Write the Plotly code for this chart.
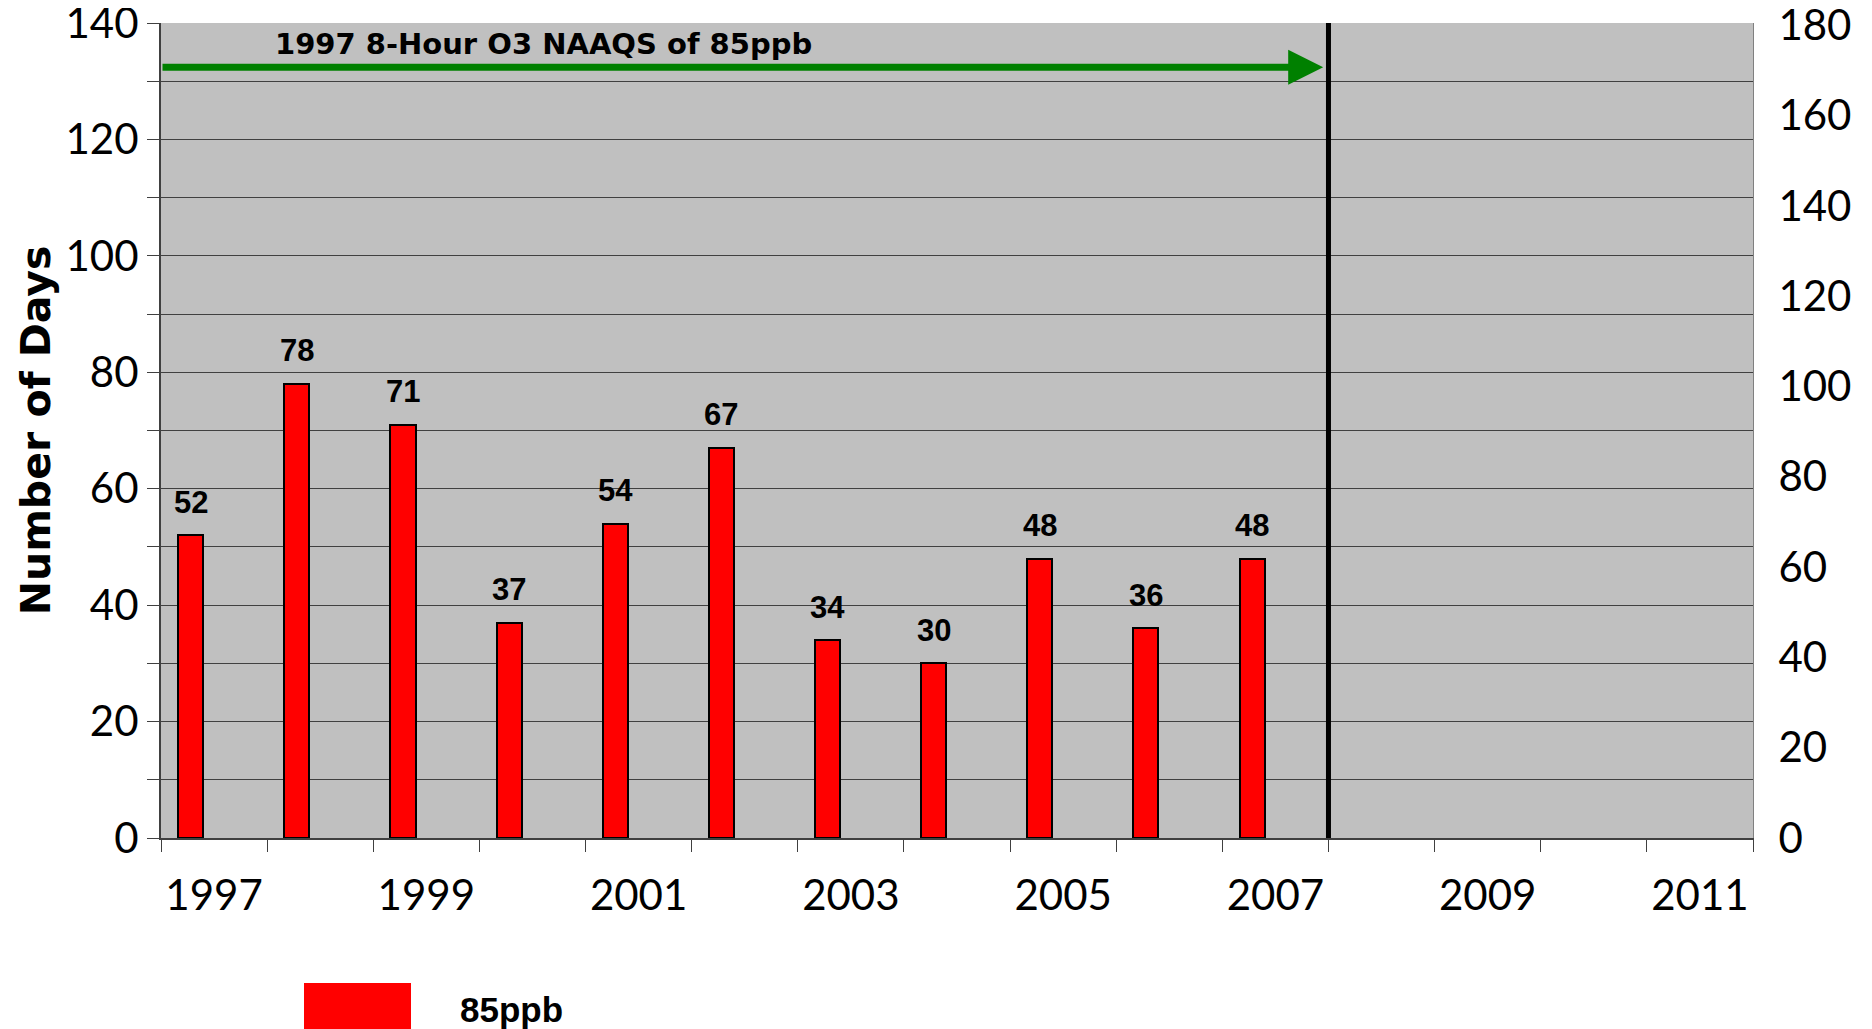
import plotly.graph_objects as go

# ---- data ----
years = [1997, 1998, 1999, 2000, 2001, 2002, 2003, 2004, 2005, 2006, 2007]
days_85ppb = [52, 78, 71, 37, 54, 67, 34, 30, 48, 36, 48]
axis_years = list(range(1997, 2012))
tick_years = [1997, 1999, 2001, 2003, 2005, 2007, 2009, 2011]
tick_labels = [str(y) for y in tick_years]
series_name = "85ppb"
arrow_label = "1997 8-Hour O3 NAAQS of 85ppb"
standard_end = 2007.5
arrow_level = 132.4

# ---- style ----
BAR_W = 0.236
BAR_CENTER_SHIFT = -0.22
TICK_FONT = dict(family="Lato", size=42, color="black")

OFF = 8  # page body margin
W, H = 1872 - OFF, 1029 - OFF
L, R, T, B = 161 - OFF, 119, 23 - OFF, 191
PW, PH = W - L - R, H - T - B

fig = go.Figure()
fig.add_trace(go.Bar(
    x=years, y=days_85ppb, name=series_name,
    width=BAR_W, offset=BAR_CENTER_SHIFT - BAR_W / 2,
    marker=dict(color="#FF0000", line=dict(color="black", width=2)),
    showlegend=False, hoverinfo="skip",
))
# empty trace to activate the right axis
fig.add_trace(go.Scatter(x=[], y=[], yaxis="y2", showlegend=False, hoverinfo="skip"))

# value labels
for yr, v in zip(years, days_85ppb):
    fig.add_annotation(
        x=yr + BAR_CENTER_SHIFT, y=v, text=str(v), showarrow=False,
        yanchor="middle", yshift=33,
        font=dict(family="Liberation Sans", size=31, color="black", weight="bold"),
    )

# standard end line
fig.add_shape(type="line", xref="x", yref="y", x0=standard_end, x1=standard_end,
              y0=-0.9, y1=140, line=dict(color="black", width=5))

# green arrow
fig.add_annotation(
    x=standard_end - 0.05, y=arrow_level, ax=axis_years[0] - 0.5, ay=arrow_level,
    xref="x", yref="y", axref="x", ayref="y", text="", showarrow=True,
    arrowhead=2, arrowsize=1.0, arrowwidth=7, arrowcolor="#008000",
)
fig.add_annotation(
    x=2000.1, y=136.4, xref="x", yref="y", text=arrow_label, showarrow=False,
    font=dict(family="DejaVu Sans", size=29, color="black", weight="bold"),
)

# custom legend (positions given in screenshot pixels)
def px_x(px):
    return (px - OFF - L) / PW

def px_y(py):
    return (H - B - (py - OFF)) / PH

fig.add_shape(type="rect", xref="paper", yref="paper",
              x0=px_x(304), x1=px_x(411), y0=px_y(1040), y1=px_y(983),
              fillcolor="#FF0000", line=dict(width=0))
fig.add_annotation(xref="paper", yref="paper", x=px_x(458), y=px_y(1009),
                   xanchor="left", yanchor="middle", text=series_name, showarrow=False,
                   font=dict(family="Liberation Sans", size=35, color="black", weight="bold"))

fig.update_layout(
    width=W, height=H,
    margin=dict(l=L, r=R, t=T, b=B, pad=0, autoexpand=False),
    plot_bgcolor="#C0C0C0", paper_bgcolor="white",
    bargap=0,
    xaxis=dict(
        automargin=False,
        range=[axis_years[0] - 0.5, axis_years[-1] + 0.5],
        tickmode="array", tickvals=tick_years, ticktext=tick_labels,
        ticks="", tickfont=TICK_FONT, ticklabelstandoff=20, ticklabeloverflow="allow",
        showgrid=False, zeroline=False,
        showline=True, linecolor="#404040", linewidth=2,
        minor=dict(tickmode="array", tickvals=[y - 0.5 for y in axis_years] + [axis_years[-1] + 0.5],
                   ticks="outside", ticklen=12, tickcolor="#404040", tickwidth=1, showgrid=False),
    ),
    yaxis=dict(
        automargin=False,
        range=[0, 140], dtick=20, tick0=0,
        ticks="outside", ticklen=12, tickcolor="#404040", tickwidth=1,
        tickfont=TICK_FONT, ticklabelstandoff=0, ticklabeloverflow="allow",
        showgrid=True, gridcolor="#404040", gridwidth=1,
        zeroline=False, showline=True, linecolor="#404040", linewidth=2,
        minor=dict(dtick=10, tick0=0, ticks="outside", ticklen=12, tickcolor="#404040",
                   showgrid=True, gridcolor="#404040", gridwidth=1),
        title=dict(text="Number of Days", standoff=2,
                   font=dict(family="DejaVu Sans", size=41, color="black", weight="bold")),
    ),
    yaxis2=dict(
        automargin=False,
        overlaying="y", side="right", range=[0, 180.5], dtick=20, tick0=0,
        ticks="", tickfont=TICK_FONT, ticklabelstandoff=16, ticklabeloverflow="allow",
        showgrid=False, zeroline=False, showline=True, linecolor="#808080", linewidth=1,
    ),
)

fig.write_html("out.html")
